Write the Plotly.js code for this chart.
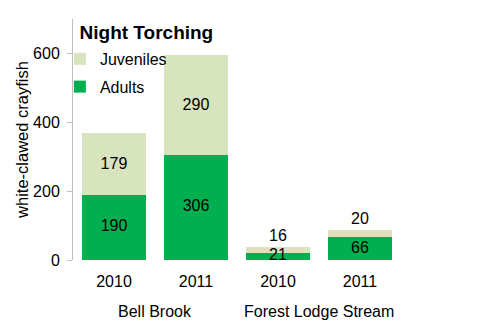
<!DOCTYPE html>
<html>
<head>
<meta charset="utf-8">
<script src="https://cdn.plot.ly/plotly-3.0.1.min.js"></script>
<style>html,body{margin:0;padding:0;background:#fff;}#chart{width:500px;height:327px;}</style>
</head>
<body>
<div id="chart"></div>
<script>
const groups = ["Bell Brook", "Bell Brook", "Forest Lodge Stream", "Forest Lodge Stream"];
const years = ["2010", "2011", "2010", "2011"];
const adults = [190, 306, 21, 66];
const juveniles = [179, 290, 16, 20];
const groupNames = ["Bell Brook", "Forest Lodge Stream"];
const yTicks = [0, 200, 400, 600];

const cats = groups.map((g, i) => g + " " + years[i]);
const FONT = "Liberation Sans, Arial, sans-serif";

const traceAdults = {
  type: "bar", name: "Adults", x: cats, y: adults,
  marker: {color: "#00B050"}, textposition: "none",
  legendgroup: "a", legendrank: 2, hoverinfo: "skip"
};
const traceJuv = {
  type: "bar", name: "Juveniles", x: cats, y: juveniles,
  marker: {color: "#D7E4BD"},
  text: juveniles.map(String),
  textposition: juveniles.map((v, i) => (adults[i] + v) > 150 ? "inside" : "outside"),
  insidetextanchor: "middle", constraintext: "none", textangle: 0, cliponaxis: false,
  textfont: {family: FONT, size: 16, color: "#000"},
  outsidetextfont: {family: FONT, size: 16, color: "#000"},
  legendgroup: "j", legendrank: 1, hoverinfo: "skip"
};
const adultLabels = {
  type: "scatter", mode: "text", x: cats, y: adults.map(v => v / 2),
  text: adults.map(String), textposition: "middle center",
  textfont: {family: FONT, size: 16, color: "#000"},
  showlegend: false, hoverinfo: "skip", cliponaxis: false
};

const annotations = groupNames.map((g) => {
  const idx = groups.map((x, i) => x === g ? i : -1).filter(i => i >= 0);
  const mid = idx.reduce((a, b) => a + b, 0) / idx.length;
  return {x: mid, xref: "x", y: -0.215, yref: "paper", yanchor: "middle",
    text: g, showarrow: false, font: {family: FONT, size: 16, color: "#000"}};
});

const layout = {
  width: 500, height: 327,
  margin: {l: 73, r: 99, t: 18.5, b: 67},
  paper_bgcolor: "#fff", plot_bgcolor: "#fff",
  barmode: "stack", bargap: 0.22,
  showlegend: true,
  title: {text: "<b>Night Torching</b>", font: {family: FONT, size: 19, color: "#000"},
    xref: "paper", x: 0.02, xanchor: "left", yref: "container", y: 1 - 32 / 327, yanchor: "middle"},
  legend: {x: -0.04, xanchor: "left", y: 0.905, yanchor: "top", bgcolor: "rgba(0,0,0,0)",
    traceorder: "grouped", tracegroupgap: 4,
    font: {family: FONT, size: 16, color: "#000"}},
  xaxis: {type: "category", tickvals: cats, ticktext: years, showline: false,
    showgrid: false, zeroline: false, ticks: "", ticklabelstandoff: 10,
    tickfont: {family: FONT, size: 16, color: "#000"}, fixedrange: true},
  yaxis: {range: [0, 700], tickvals: yTicks, ticktext: yTicks.map(String),
    showline: true, linecolor: "#BFBFBF", linewidth: 1,
    ticks: "outside", ticklen: 5, tickcolor: "#BFBFBF", ticklabelstandoff: 4,
    showgrid: false, zeroline: false,
    tickfont: {family: FONT, size: 16, color: "#000"},
    title: {text: "white-clawed crayfish", font: {family: FONT, size: 16.5, color: "#000"}, standoff: 0}},
  annotations: annotations,
  font: {family: FONT}
};

Plotly.newPlot("chart", [traceAdults, traceJuv, adultLabels], layout, {displayModeBar: false, staticPlot: true});
</script>
</body>
</html>
